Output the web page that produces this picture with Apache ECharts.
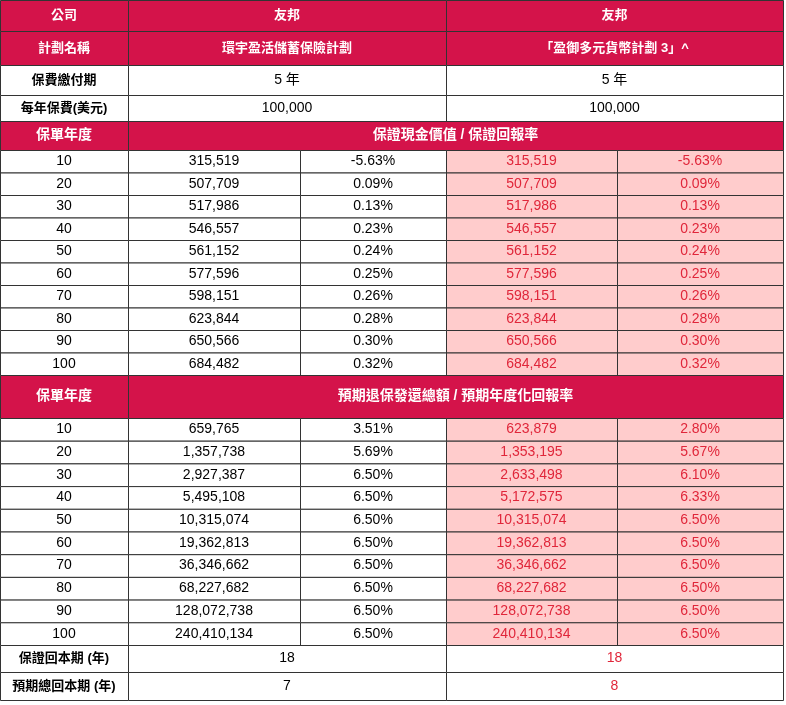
<!DOCTYPE html>
<html><head><meta charset="utf-8">
<script src="https://cdn.jsdelivr.net/npm/echarts@6/dist/echarts.min.js"></script>
<style>html,body{margin:0;padding:0;background:#fff}#c{width:786px;height:705px}</style>
</head><body><div id="c"></div>
<script>
const years = ['10','20','30','40','50','60','70','80','90','100'];
const guarValA = ['315,519','507,709','517,986','546,557','561,152','577,596','598,151','623,844','650,566','684,482'];
const guarRateA = ['-5.63%','0.09%','0.13%','0.23%','0.24%','0.25%','0.26%','0.28%','0.30%','0.32%'];
const guarValB = ['315,519','507,709','517,986','546,557','561,152','577,596','598,151','623,844','650,566','684,482'];
const guarRateB = ['-5.63%','0.09%','0.13%','0.23%','0.24%','0.25%','0.26%','0.28%','0.30%','0.32%'];
const expValA = ['659,765','1,357,738','2,927,387','5,495,108','10,315,074','19,362,813','36,346,662','68,227,682','128,072,738','240,410,134'];
const expRateA = ['3.51%','5.69%','6.50%','6.50%','6.50%','6.50%','6.50%','6.50%','6.50%','6.50%'];
const expValB = ['623,879','1,353,195','2,633,498','5,172,575','10,315,074','19,362,813','36,346,662','68,227,682','128,072,738','240,410,134'];
const expRateB = ['2.80%','5.67%','6.10%','6.33%','6.50%','6.50%','6.50%','6.50%','6.50%','6.50%'];
const company = ['公司','友邦','友邦'];
const planName = ['計劃名稱','環宇盈活儲蓄保險計劃','「盈御多元貨幣計劃 3」^'];
const payTerm = ['保費繳付期','5 年','5 年'];
const premium = ['每年保費(美元)','100,000','100,000'];
const header1 = ['保單年度','保證現金價值 / 保證回報率'];
const header2 = ['保單年度','預期退保發還總額 / 預期年度化回報率'];
const breakEvenG = ['保證回本期 (年)','18','18'];
const breakEvenE = ['預期總回本期 (年)','7','8'];

const RED = '#d4134a', PINK = '#ffcccc', PTXT = '#e0263a', BORDER = '#333';
const cols = [0,128,300,446,617,783];
const els = [];
function cell(x0,x1,y0,y1,text,opt){
  opt = opt||{};
  els.push({type:'rect',shape:{x:x0+0.5,y:y0+0.5,width:x1-x0,height:y1-y0},
    style:{fill:opt.fill||'#fff',stroke:BORDER,lineWidth:1}});
  els.push({type:'text',x:(x0+x1)/2,y:(y0+y1)/2+(opt.dy||0),
    style:{text:text,align:'center',verticalAlign:'middle',fill:opt.color||'#000',
      font:(opt.bold?'bold ':'')+(opt.size||14)+'px "Liberation Sans", "Noto Sans CJK TC", sans-serif'}});
}
function threeRow(arr,y0,y1,kind){
  if(kind==='red'){
    cell(cols[0],cols[1],y0,y1,arr[0],{fill:RED,color:'#fff',bold:true,size:13});
    cell(cols[1],cols[3],y0,y1,arr[1],{fill:RED,color:'#fff',bold:true,size:13});
    cell(cols[3],cols[5],y0,y1,arr[2],{fill:RED,color:'#fff',bold:true,size:13});
  } else {
    cell(cols[0],cols[1],y0,y1,arr[0],{bold:true,size:13});
    cell(cols[1],cols[3],y0,y1,arr[1],{});
    cell(cols[3],cols[5],y0,y1,arr[2],{color:kind==='redtext'?PTXT:'#000'});
  }
}
function header(arr,y0,y1){
  cell(cols[0],cols[1],y0,y1,arr[0],{fill:RED,color:'#fff',bold:true,size:14});
  cell(cols[1],cols[5],y0,y1,arr[1],{fill:RED,color:'#fff',bold:true,size:14});
}
function block(y0,h,va,ra,vb,rb){
  years.forEach((y,i)=>{
    const a=y0+i*h,b=a+h;
    cell(cols[0],cols[1],a,b,y,{});
    cell(cols[1],cols[2],a,b,va[i],{});
    cell(cols[2],cols[3],a,b,ra[i],{});
    cell(cols[3],cols[4],a,b,vb[i],{fill:PINK,color:PTXT});
    cell(cols[4],cols[5],a,b,rb[i],{fill:PINK,color:PTXT});
  });
}
threeRow(company,0,31,'red');
threeRow(planName,31,65,'red');
threeRow(payTerm,65,95,'white');
threeRow(premium,95,121,'white');
header(header1,121,150);
block(150,22.5,guarValA,guarRateA,guarValB,guarRateB);
header(header2,375,418);
block(418,22.7,expValA,expRateA,expValB,expRateB);
threeRow(breakEvenG,645,672,'redtext');
threeRow(breakEvenE,672,700,'redtext');
const chart = echarts.init(document.getElementById('c'));
chart.setOption({animation:false,graphic:{elements:els}});
</script></body></html>
